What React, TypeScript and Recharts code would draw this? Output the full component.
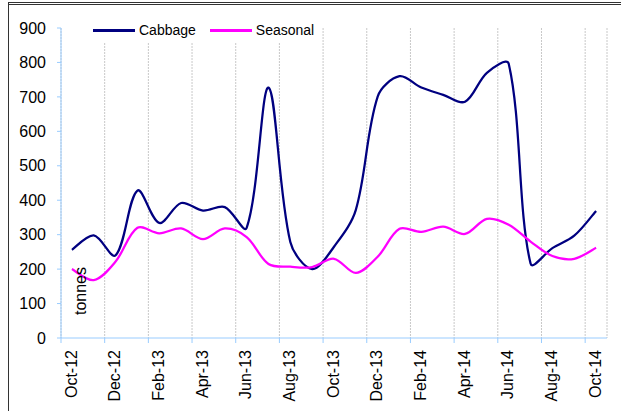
import React from 'react';
import { LineChart, Line, XAxis, YAxis, CartesianGrid, Legend } from 'recharts';

const months = ['Oct-12','Nov-12','Dec-12','Jan-13','Feb-13','Mar-13','Apr-13','May-13','Jun-13','Jul-13','Aug-13','Sep-13','Oct-13','Nov-13','Dec-13','Jan-14','Feb-14','Mar-14','Apr-14','May-14','Jun-14','Jul-14','Aug-14','Sep-14','Oct-14'];
const cabbage = [256, 298, 240, 428, 334, 392, 370, 380, 320, 727, 279, 200, 265, 372, 701, 760, 727, 706, 686, 770, 796, 216, 261, 297, 369];
const seasonal = [200, 168, 222, 320, 304, 318, 287, 318, 293, 215, 207, 206, 230, 189, 236, 317, 308, 323, 302, 346, 329, 280, 238, 230, 262];
const xTickLabels = ['Oct-12','Dec-12','Feb-13','Apr-13','Jun-13','Aug-13','Oct-13','Dec-13','Feb-14','Apr-14','Jun-14','Aug-14','Oct-14'];
const yTicks = [0, 100, 200, 300, 400, 500, 600, 700, 800, 900];

const data = months.map((m, i) => ({ month: m, t: i + 0.5, Cabbage: cabbage[i], Seasonal: seasonal[i] }));
const xTicks = xTickLabels.map((_, i) => i * 2);

const FONT = '"Liberation Sans", Arial, sans-serif';
const AXIS = '#99ccff';

// Smoothing similar to spreadsheet "smoothed line": Bezier with chord-weighted tangents.
const excelSmooth = (context: any) => {
  let pts: [number, number][] = [];
  const dist = (a: [number, number], b: [number, number]) => Math.hypot(a[0] - b[0], a[1] - b[1]);
  return {
    areaStart() {},
    areaEnd() {},
    lineStart() { pts = []; },
    point(x: number, y: number) { pts.push([+x, +y]); },
    lineEnd() {
      const n = pts.length;
      if (!n) return;
      const ctrl = (i: number, after: boolean): [number, number] => {
        const p = pts[i];
        const prev = pts[Math.max(i - 1, 0)];
        const next = pts[Math.min(i + 1, n - 1)];
        const tx = next[0] - prev[0];
        const ty = next[1] - prev[1];
        let f = 1 / 6;
        if (i > 0 && i < n - 1) {
          const dp = dist(p, prev);
          const dn = dist(next, p);
          const s = dp + dn || 1;
          f = (after ? dn : dp) / s / 3;
        }
        return after ? [p[0] + tx * f, p[1] + ty * f] : [p[0] - tx * f, p[1] - ty * f];
      };
      context.moveTo(pts[0][0], pts[0][1]);
      for (let i = 0; i < n - 1; i++) {
        const c1 = ctrl(i, true);
        const c2 = ctrl(i + 1, false);
        context.bezierCurveTo(c1[0], c1[1], c2[0], c2[1], pts[i + 1][0], pts[i + 1][1]);
      }
    },
  };
};

const XTick = (props: any) => {
  const { x, y, payload } = props;
  const label = xTickLabels[Math.round(payload.value / 2)] ?? '';
  const ax = x + 10;
  const ay = y + 5;
  return (
    <text x={ax} y={ay} transform={`rotate(-90, ${ax}, ${ay})`} textAnchor="end" dominantBaseline="central"
      fontFamily={FONT} fontSize={16} fill="#000">{label}</text>
  );
};

const LegendContent = () => (
  <div style={{ display: 'flex', alignItems: 'center', fontFamily: FONT, fontSize: 14, color: '#000', height: '100%' }}>
    <span style={{ display: 'inline-block', width: 42, height: 3, background: '#000080', marginLeft: 5 }} />
    <span style={{ marginLeft: 4 }}>Cabbage</span>
    <span style={{ display: 'inline-block', width: 42, height: 3, background: '#ff00ff', marginLeft: 14 }} />
    <span style={{ marginLeft: 4 }}>Seasonal</span>
  </div>
);

const TonnesLabel = (props: any) => {
  const vb = props.viewBox || { x: 0, y: 0, width: 0, height: 0 };
  const lx = vb.x + vb.width + 19;
  const ly = vb.y + vb.height - 47;
  return (
    <text x={lx} y={ly} transform={`rotate(-90, ${lx}, ${ly})`} textAnchor="middle" dominantBaseline="central"
      fontFamily={FONT} fontSize={16} fill="#000">tonnes</text>
  );
};

export default function App() {
  return (
    <div style={{ position: 'absolute', left: 0, top: 0, width: 621, height: 411, background: '#fff', overflow: 'hidden' }}>
      <div style={{ position: 'absolute', left: 8, top: 2, right: 0, height: 0, borderTop: '3px double #333' }} />
      <div style={{ position: 'absolute', left: 8, top: 3, bottom: 0, width: 0, borderLeft: '1px solid #333' }} />
      <LineChart width={621} height={411} data={data} margin={{ top: 28, right: 14, bottom: 0, left: 0 }}>
        <CartesianGrid horizontal={false} stroke="#c8c8c8" strokeDasharray="2 1" />
        <XAxis dataKey="t" type="number" domain={[0, 25]} ticks={xTicks} interval={0} height={73}
          stroke={AXIS} tickSize={5} tick={<XTick />} allowDataOverflow />
        <YAxis domain={[0, 900]} ticks={yTicks} interval={0} width={61} stroke={AXIS} tickSize={4} tickMargin={11}
          tick={{ fontFamily: FONT, fontSize: 16, fill: '#000' }} label={<TonnesLabel />} />
        <Legend verticalAlign="middle" layout="horizontal" content={<LegendContent />}
          wrapperStyle={{ position: 'absolute', left: 88, top: 18, width: 232, height: 24, background: '#fff', margin: 0 }} />
        <Line type={excelSmooth as any} dataKey="Cabbage" stroke="#000080" strokeWidth={2.25} dot={false} activeDot={false} isAnimationActive={false} />
        <Line type={excelSmooth as any} dataKey="Seasonal" stroke="#ff00ff" strokeWidth={2.25} dot={false} activeDot={false} isAnimationActive={false} />
      </LineChart>
    </div>
  );
}
